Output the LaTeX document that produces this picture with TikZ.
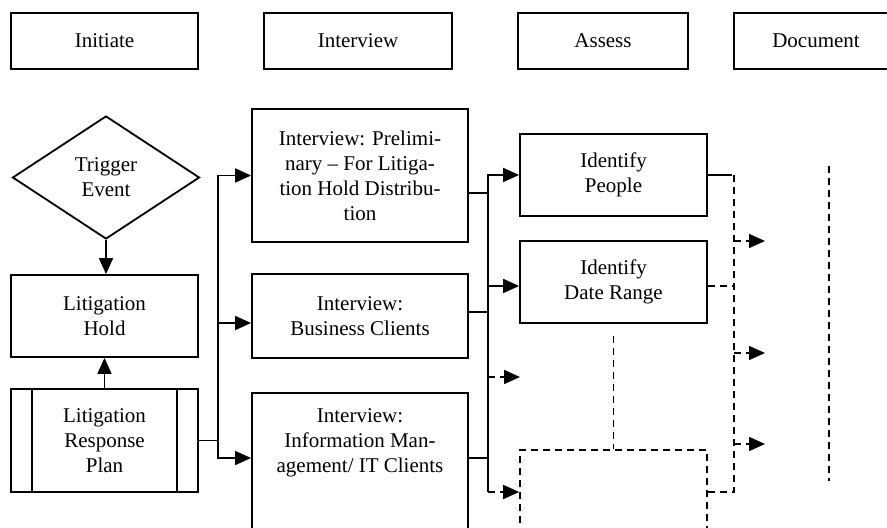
\documentclass[tikz,border=0pt]{standalone}
\usepackage{fontspec}
\setmainfont{Liberation Serif}
\usetikzlibrary{shapes.geometric,arrows.meta}

\begin{document}
\begin{tikzpicture}[x=0.5pt, y=-0.5pt,
    font=\fontsize{10.5}{12.5}\selectfont,
    box/.style={draw, line width=0.9pt, align=center, inner sep=2pt},
    flow/.style={line width=0.9pt, -{Triangle[length=8pt, width=7pt]}},
    line/.style={line width=0.9pt},
    dashline/.style={line width=0.8pt, dash pattern=on 3.5pt off 2.5pt}]
    \useasboundingbox (0,0) rectangle (887,528);

    % Stage headers
    \node[box, minimum width=93.5pt, minimum height=28pt] (initiate) at (104.5,41) {Initiate};
    \node[box, minimum width=94pt, minimum height=28pt] (interview) at (358,41) {Interview};
    \node[box, minimum width=85pt, minimum height=28pt] (assess) at (603,41) {Assess};
    \node[box, minimum width=82pt, minimum height=28pt] (document) at (816,41) {Document};

    % Initiate column
    \node[draw, line width=0.9pt, diamond, inner sep=0pt, align=center,
          minimum width=93.5pt, minimum height=61.5pt] (trigger) at (106,177.5) {Trigger\\Event};
    \node[box, minimum width=93.5pt, minimum height=41pt] (hold) at (104.5,316) {Litigation\\Hold};
    \node[box, minimum width=93.5pt, minimum height=51.5pt] (plan) at (104.5,440.5) {Litigation\\Response\\Plan};
    \draw[line] ([xshift=11pt]plan.north west) -- ([xshift=11pt]plan.south west);
    \draw[line] ([xshift=-11pt]plan.north east) -- ([xshift=-11pt]plan.south east);
    \draw[flow] (trigger.south) -- (trigger.south |- hold.north);
    \draw[flow] (plan.north) -- (hold.south);

    % Interview column
    \node[box, minimum width=108pt, minimum height=66.5pt] (prelim) at (360,175.5)
        {Interview: Prelimi-\\nary -- For Litiga-\\tion Hold Distribu-\\tion};
    \node[box, minimum width=108pt, minimum height=42pt] (business) at (360,316)
        {Interview:\\Business Clients};
    \node[draw, line width=0.9pt, inner sep=0pt, anchor=north] (infomgmt) at (360,392)
        {\parbox[t][110pt][t]{108pt}{\centering\rule{0pt}{15pt}Interview:\\Information Man-\\agement/ IT Clients}};

    \coordinate (busA) at (218,0);
    \draw[line] (plan.east) -- (plan.east -| busA);
    \draw[flow] (plan.east -| busA) |- (prelim.west);
    \draw[flow] (plan.east -| busA) |- ([yshift=-33pt]infomgmt.north west);
    \draw[flow] ([yshift=-3.5pt]business.west -| busA) -- ([yshift=-3.5pt]business.west);

    % Assess column
    \node[box, minimum width=93.5pt, minimum height=41pt] (people) at (613.5,175) {Identify\\People};
    \node[box, minimum width=93.5pt, minimum height=41pt] (dates) at (613.5,282) {Identify\\Date Range};
    \node[draw, dashline, inner sep=0pt, minimum width=93.5pt, minimum height=110pt,
          anchor=north] (pending) at (613.5,449) {};

    \coordinate (busB) at (488,0);
    \coordinate (open) at (520,377);
    \draw[line] ([yshift=-8.75pt]prelim.east) -- ([yshift=-8.75pt]prelim.east -| busB);
    \draw[line] ([yshift=2pt]business.east) -- ([yshift=2pt]business.east -| busB);
    \draw[line] ([yshift=-33pt]infomgmt.north east) -- ([yshift=-33pt]infomgmt.north east -| busB);
    \draw[flow] ([yshift=-21.5pt]pending.north west -| busB) |- (people.west);
    \draw[flow] ([yshift=-2pt]dates.west -| busB) -- ([yshift=-2pt]dates.west);
    \draw[flow, dashline] (open -| busB) -- (open);
    \draw[flow, dashline] ([yshift=-21.5pt]pending.north west -| busB) -- ([yshift=-21.5pt]pending.north west);
    \draw[dashline] ([yshift=-6pt]dates.south) -- (pending.north);

    % Document column
    \coordinate (busC) at (734,0);
    \coordinate (outA) at (765,241);
    \coordinate (outB) at (765,353);
    \coordinate (outC) at (765,444);
    \coordinate (docTop) at (829,166);
    \coordinate (docBot) at (829,481);
    \draw[line] (people.east) -- ++(12pt,0);
    \draw[dashline] (people.east -| busC) -- ([yshift=-21.5pt]pending.north east -| busC)
        -- ([yshift=-21.5pt]pending.north east);
    \draw[dashline] ([yshift=-2pt]dates.east) -- ([yshift=-2pt]dates.east -| busC);
    \foreach \o in {outA,outB,outC}
        \draw[flow, dashline] (\o -| busC) -- (\o);
    \draw[dashline] (docTop) -- (docBot);
\end{tikzpicture}
\end{document}
